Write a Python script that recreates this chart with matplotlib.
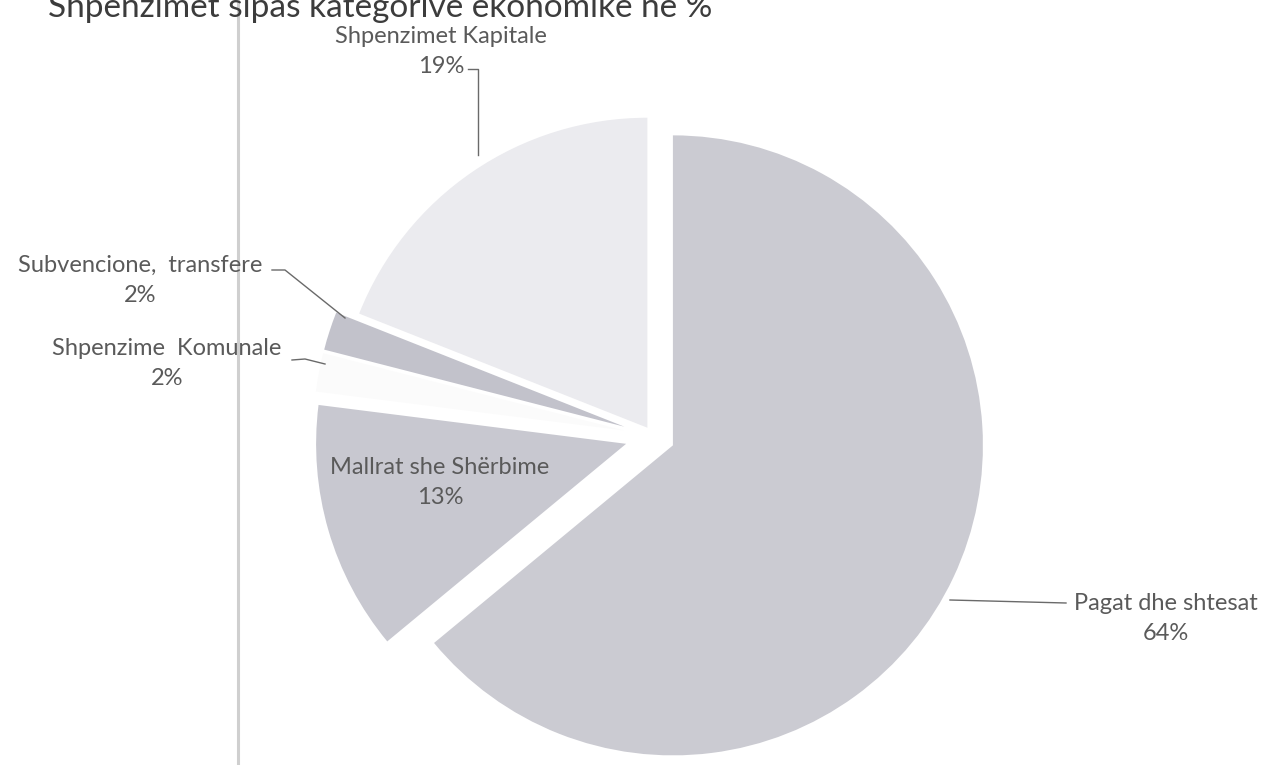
import matplotlib.pyplot as plt

# shpenzimet sipas kategorive ekonomike (%)
categories = ["Pagat dhe shtesat", "Mallrat she Shërbime", "Shpenzime  Komunale",
              "Subvencione,  transfere", "Shpenzimet Kapitale"]
shares = [64, 13, 2, 2, 19]

colors = ["#cbcbd2", "#c8c8d0", "#fbfbfb", "#c2c2cb", "#ebebef"]
# offsets in pixels (pie's explode is in data units)
explode = [22, 28, 30, 30, 10]

W, H = 1267, 765
fig = plt.figure(figsize=(W / 100, H / 100), dpi=100)
ax = fig.add_axes([0, 0, 1, 1])

# y axis runs downwards (pixel-like), so start at -90 and go "counterclock"
ax.pie(shares, colors=colors, explode=explode, startangle=-90, counterclock=True,
       center=(653, 436), radius=310, wedgeprops=dict(linewidth=0))

ax.set_xlim(0, W)
ax.set_ylim(H, 0)
ax.set_aspect("equal")
ax.axis("off")

FONT = ["Lato", "DejaVu Sans"]
TC = "#5a5a5a"

# title, cut off by the top edge of the scan
ax.text(712, 17, "Shpenzimet sipas kategorive ekonomike në %", ha="right", va="baseline",
        fontsize=24, color="#3c3c3c", family=FONT)

# page edge left by the scanner
ax.plot([238, 238], [0, H], color="#cfcfcf", lw=2.2)

# labels: name line, percent just below
label_pos = {
    0: (1166, 603),
    1: (440, 467),
    2: (167, 348),
    3: (140, 265),
    4: (441, 36),
}
for i, (x, y) in label_pos.items():
    ax.text(x, y, categories[i], ha="center", va="center", fontsize=17, color=TC, family=FONT)
    ax.text(x, y + 30, f"{shares[i]}%", ha="center", va="center", fontsize=17, color=TC, family=FONT)

# leader lines
lc = "#6a6a6a"
ax.plot([950, 1066], [600, 603], color=lc, lw=1)
ax.plot([468, 478, 478], [69, 69, 155], color=lc, lw=1)
ax.plot([272, 285, 345], [270, 270, 318], color=lc, lw=1)
ax.plot([292, 305, 325], [360, 359, 364], color=lc, lw=1)

fig.savefig("out.png", dpi=100, facecolor="white")
